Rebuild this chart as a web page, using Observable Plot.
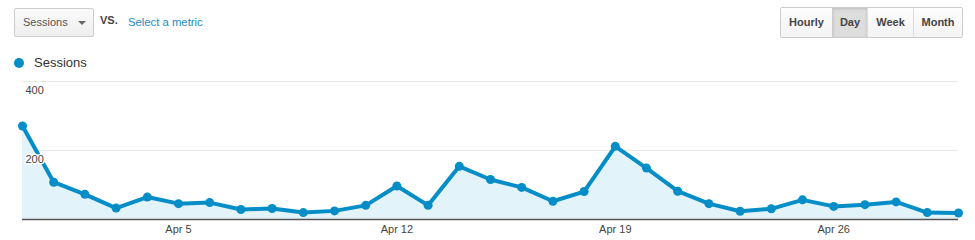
<!DOCTYPE html>
<html>
<head>
<meta charset="utf-8">
<script src="https://cdn.jsdelivr.net/npm/d3@7"></script>
<script src="https://cdn.jsdelivr.net/npm/@observablehq/plot@0.6"></script>
<style>
  html, body { margin: 0; padding: 0; background: #fff; }
  body { width: 975px; height: 240px; position: relative; overflow: hidden; font-family: "Liberation Sans", Arial, sans-serif; }
  .abs { position: absolute; }
  #select { left: 14px; top: 8px; width: 78px; height: 27px; border: 1px solid #ccc; border-radius: 2px;
    background: linear-gradient(#fafafa, #eeeeee); box-sizing: content-box; }
  #select span { position: absolute; left: 8px; top: 7px; font-size: 11px; color: #555; }
  #select i { position: absolute; left: 63px; top: 12px; width: 0; height: 0; border-left: 4px solid transparent;
    border-right: 4px solid transparent; border-top: 4px solid #666; }
  #vs { left: 100px; top: 14px; font-size: 11px; font-weight: bold; color: #444; }
  #metric { left: 128px; top: 16px; font-size: 11.3px; color: #1a8bc4; }
  #buttons { left: 780px; top: 7px; height: 29px; display: flex; border: 1px solid #ccc; border-radius: 2px; overflow: hidden; }
  #buttons div { height: 29px; line-height: 29px; text-align: center; font-size: 11px; font-weight: bold; color: #444;
    background: linear-gradient(#fdfdfd, #f3f3f3); border-left: 1px solid #ddd; box-sizing: border-box; }
  #buttons div:first-child { border-left: none; }
  #buttons div.active { background: #ddd; box-shadow: inset 0 1px 3px rgba(0,0,0,0.15); border-left: 1px solid #ccc; }
  #legend { left: 14px; top: 55px; font-size: 13px; color: #333; }
  #legend b { position: absolute; left: 0; top: 3px; width: 10px; height: 10px; border-radius: 50%; background: #058dc7; }
  #legend span { position: absolute; left: 20px; top: 0; white-space: nowrap; }
  #chart { left: 0; top: 70px; }
</style>
</head>
<body>
<div class="abs" id="select"><span>Sessions</span><i></i></div>
<div class="abs" id="vs">VS.</div>
<div class="abs" id="metric">Select a metric</div>
<div class="abs" id="buttons"></div>
<div class="abs" id="legend"><b></b><span>Sessions</span></div>
<div class="abs" id="chart"></div>
<script>
// ---- data ----
const startDate = "2015-03-31";
const sessions = [271, 108, 73, 33, 65, 46, 49, 29, 32, 20,
                  25, 41, 97, 41, 154, 116, 93, 53, 81, 212,
                  149, 82, 46, 24, 31, 57, 38, 43, 51, 20, 19];
const xTickDates = ["2015-04-05", "2015-04-12", "2015-04-19", "2015-04-26"];
const yTicks = [200, 400];
const buttonLabels = ["Hourly", "Day", "Week", "Month"];
const buttonWidths = [51, 35, 46, 49];
const activeButton = "Day";

// ---- buttons ----
const bc = document.getElementById("buttons");
buttonLabels.forEach((b, i) => {
  const d = document.createElement("div");
  d.textContent = b;
  d.style.width = buttonWidths[i] + "px";
  if (b === activeButton) d.className = "active";
  bc.appendChild(d);
});

// ---- chart ----
const t0 = new Date(startDate + "T00:00:00Z");
const data = sessions.map((v, i) => ({date: d3.utcDay.offset(t0, i), value: v}));
const xTicks = xTickDates.map(s => new Date(s + "T00:00:00Z"));
const fmt = d3.utcFormat("%b %-d");
const blue = "#058dc7";

const chart = Plot.plot({
  width: 975,
  height: 170,
  marginLeft: 22,
  marginRight: 17,
  marginTop: 11,
  marginBottom: 21,
  style: {fontFamily: "'Liberation Sans', Arial, sans-serif", fontSize: "11px", color: "#444", background: "transparent", overflow: "visible"},
  x: {type: "utc", domain: [data[0].date, data[data.length - 1].date]},
  y: {domain: [0, 400]},
  marks: [
    Plot.ruleY(yTicks, {stroke: "#e8e8e8", strokeWidth: 1}),
    Plot.areaY(data, {x: "date", y: "value", fill: "#e3f3fa"}),
    Plot.ruleY([0], {stroke: "#555", strokeWidth: 1.5}),
    Plot.line(data, {x: "date", y: "value", stroke: blue, strokeWidth: 4, strokeLinejoin: "round"}),
    Plot.dot(data, {x: "date", y: "value", r: 4.5, fill: blue}),
    Plot.text(yTicks, {x: data[0].date, y: d => d, text: d => String(d), textAnchor: "start", dx: 3, dy: 9,
      fill: "#444", stroke: "white", strokeWidth: 3, fontSize: 11}),
    Plot.axisX({ticks: xTicks, tickFormat: fmt, tickSize: 0, tickPadding: 6, fontSize: 11, fill: "#444"}),
    Plot.axisY({ticks: [], label: null, tickSize: 0})
  ]
});
document.getElementById("chart").appendChild(chart);
</script>
</body>
</html>
